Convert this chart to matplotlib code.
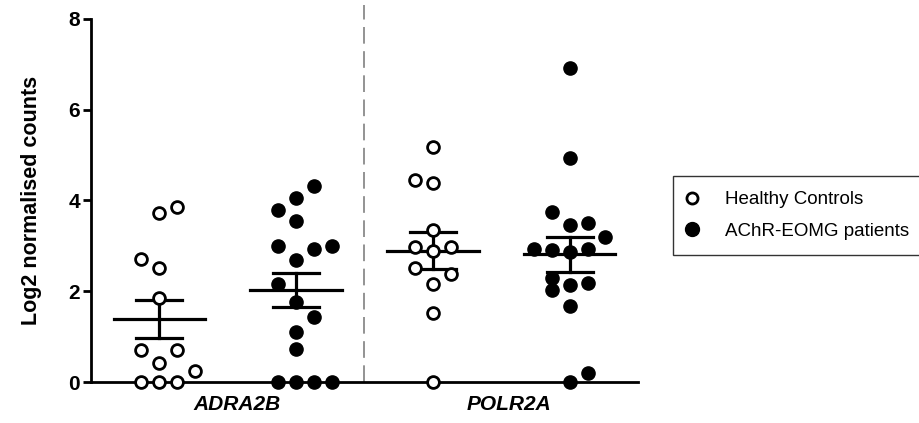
import numpy as np
import matplotlib.pyplot as plt
from matplotlib.lines import Line2D

plt.rcParams['font.family'] = ['Liberation Sans', 'DejaVu Sans']

genes = ['ADRA2B', 'POLR2A']
groups = ['Healthy Controls', 'AChR-EOMG patients']

# log2 normalised counts, one value per subject
hc_adra2b = [3.72, 3.85, 2.71, 2.51, 1.85, 0.70, 0.70, 0.42, 0.24, 0.0, 0.0, 0.0]
mg_adra2b = [4.32, 4.05, 3.79, 3.55, 3.00, 2.93, 3.00, 2.69, 2.16, 1.76, 1.43,
             1.10, 0.73, 0.0, 0.0, 0.0, 0.0]
hc_polr2a = [5.17, 4.45, 4.38, 3.35, 2.98, 2.88, 2.98, 2.51, 2.38, 2.16, 1.52, 0.0]
mg_polr2a = [6.92, 4.93, 3.74, 3.46, 3.50, 3.19, 2.93, 2.91, 2.86, 2.93, 2.29,
             2.03, 2.14, 2.18, 1.67, 0.20, 0.0]

# sideways slot of each point so overlapping dots sit next to each other
hc_adra2b_slot = [0, 1, -1, 0, 0, -1, 1, 0, 2, -1, 0, 1]
mg_adra2b_slot = [1, 0, -1, 0, -1, 1, 2, 0, -1, 0, 1, 0, 0, -1, 0, 1, 2]
hc_polr2a_slot = [0, -1, 0, 0, -1, 0, 1, -1, 1, 0, 0, 0]
mg_polr2a_slot = [0, 0, -1, 0, 1, 2, -2, -1, 0, 1, -1, -1, 0, 1, 0, 1, 0]

columns = [(hc_adra2b, hc_adra2b_slot, 0),
           (mg_adra2b, mg_adra2b_slot, 1),
           (hc_polr2a, hc_polr2a_slot, 0),
           (mg_polr2a, mg_polr2a_slot, 1)]

fig = plt.figure(figsize=(9.2, 4.23), dpi=100)
ax = fig.add_axes([91 / 920, 41 / 423, 547 / 920, 363 / 423])

step = 0.131
for i, (vals, slots, g) in enumerate(columns):
    vals = np.array(vals)
    x = i + step * np.array(slots)
    if g == 0:
        ax.plot(x, vals, 'o', ms=8.5, mfc='white', mec='black', mew=2.0,
                clip_on=False, zorder=4)
    else:
        ax.plot(x, vals, 'o', ms=9.5, mfc='black', mec='black', mew=1,
                clip_on=False, zorder=4)
    # mean with SEM
    m = vals.mean()
    sem = vals.std(ddof=1) / np.sqrt(len(vals))
    ax.plot([i - 0.335, i + 0.335], [m, m], color='black', lw=2.3, zorder=3)
    ax.plot([i, i], [m - sem, m + sem], color='black', lw=2.3, zorder=3)
    for e in (m - sem, m + sem):
        ax.plot([i - 0.168, i + 0.168], [e, e], color='black', lw=2.3, zorder=3)

# separator between the two genes
ax.plot([1.5, 1.5], [0, 8.3], color='#808080', lw=1.2, dashes=(10, 4.5),
        clip_on=False, zorder=1)

ax.set_xlim(-0.5, 3.5)
ax.set_ylim(0, 8)
ax.set_yticks([0, 2, 4, 6, 8])
ax.set_xticks([0.57, 2.56])
ax.set_xticklabels(genes, fontsize=15, fontweight='bold', fontstyle='italic')
ax.tick_params(axis='x', length=0, pad=9)
ax.tick_params(axis='y', length=6, width=2, pad=2, labelsize=15)
for lab in ax.get_yticklabels():
    lab.set_fontweight('bold')
ax.set_ylabel('Log2 normalised counts', fontsize=15.5, fontweight='bold',
              labelpad=19)
for s in ('top', 'right'):
    ax.spines[s].set_visible(False)
for s in ('left', 'bottom'):
    ax.spines[s].set_linewidth(2)

handles = [Line2D([], [], ls='none', marker='o', ms=8, mfc='white', mec='black', mew=2),
           Line2D([], [], ls='none', marker='o', ms=10, mfc='black', mec='black')]
leg = fig.legend(handles, groups, loc='upper left',
                 bbox_to_anchor=(673 / 920, 1 - 176 / 423), fontsize=13.5,
                 frameon=True, fancybox=False, edgecolor='black',
                 handlelength=0.4, handletextpad=1.55, labelspacing=0.75,
                 borderpad=0.82, borderaxespad=0)
leg.get_frame().set_linewidth(1)

fig.savefig('out.png', dpi=100)
